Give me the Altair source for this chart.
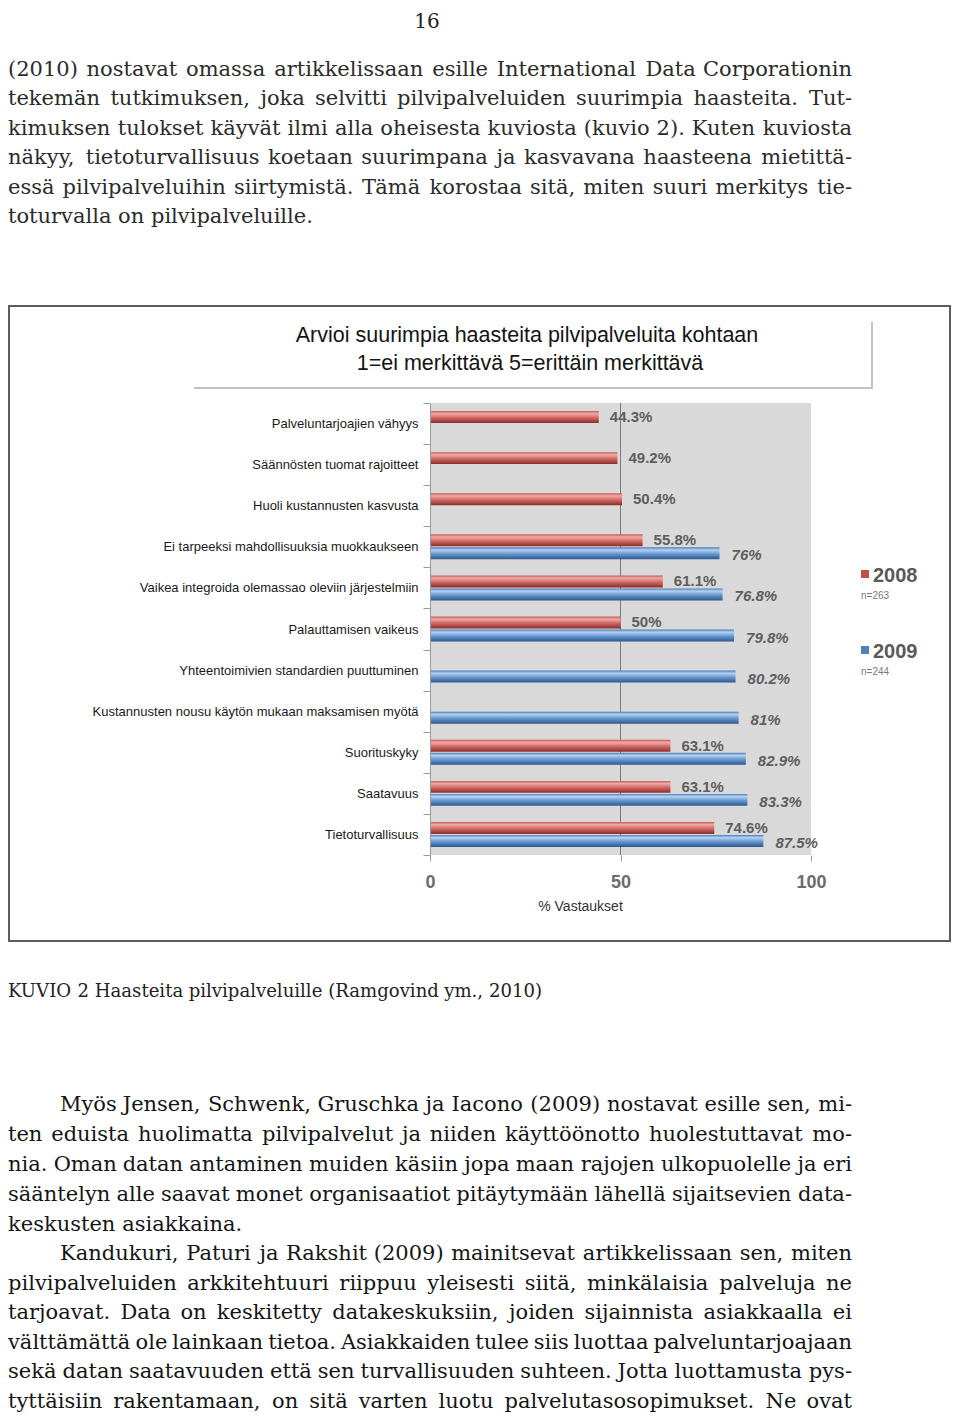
import altair as alt
import pandas as pd

# ---------------- data ----------------
categories = [
    "Palveluntarjoajien vähyys",
    "Säännösten tuomat rajoitteet",
    "Huoli kustannusten kasvusta",
    "Ei tarpeeksi mahdollisuuksia muokkaukseen",
    "Vaikea integroida olemassao oleviin järjestelmiin",
    "Palauttamisen vaikeus",
    "Yhteentoimivien standardien puuttuminen",
    "Kustannusten nousu käytön mukaan maksamisen myötä",
    "Suorituskyky",
    "Saatavuus",
    "Tietoturvallisuus",
]
values_2008 = [44.3, 49.2, 50.4, 55.8, 61.1, 50.0, None, None, 63.1, 63.1, 74.6]
values_2009 = [None, None, None, 76.0, 76.8, 79.8, 80.2, 81.0, 82.9, 83.3, 87.5]
years = ["2008", "2009"]
sample_sizes = ["n=263", "n=244"]
x_ticks = [0, 50, 100]
gridline_at = [50]
chart_title = ["Arvioi suurimpia haasteita pilvipalveluita kohtaan",
               "1=ei merkittävä 5=erittäin merkittävä"]
x_title = "% Vastaukset"

page_number = "16"
para1 = [
    "(2010) nostavat omassa artikkelissaan esille International Data Corporationin",
    "tekemän tutkimuksen, joka selvitti pilvipalveluiden suurimpia haasteita. Tut-",
    "kimuksen tulokset käyvät ilmi alla oheisesta kuviosta (kuvio 2). Kuten kuviosta",
    "näkyy, tietoturvallisuus koetaan suurimpana ja kasvavana haasteena mietittä-",
    "essä pilvipalveluihin siirtymistä.  Tämä korostaa sitä, miten suuri merkitys tie-",
    "toturvalla on pilvipalveluille.",
]
caption = "KUVIO 2 Haasteita pilvipalveluille  (Ramgovind ym., 2010)"
para2 = [
    "Myös Jensen, Schwenk, Gruschka ja Iacono (2009) nostavat esille sen, mi-",
    "ten eduista huolimatta pilvipalvelut ja niiden käyttöönotto huolestuttavat mo-",
    "nia. Oman datan antaminen muiden käsiin jopa maan rajojen ulkopuolelle ja eri",
    "sääntelyn alle saavat monet organisaatiot pitäytymään lähellä sijaitsevien data-",
    "keskusten asiakkaina.",
]
para3 = [
    "Kandukuri, Paturi ja Rakshit (2009) mainitsevat artikkelissaan sen, miten",
    "pilvipalveluiden arkkitehtuuri riippuu yleisesti siitä, minkälaisia palveluja ne",
    "tarjoavat. Data on keskitetty datakeskuksiin, joiden sijainnista asiakkaalla ei",
    "välttämättä ole lainkaan tietoa. Asiakkaiden tulee siis luottaa palveluntarjoajaan",
    "sekä datan saatavuuden että sen turvallisuuden suhteen. Jotta luottamusta pys-",
    "tyttäisiin rakentamaan, on sitä varten luotu palvelutasosopimukset. Ne ovat",
]

rows = []
for c, a, b in zip(categories, values_2008, values_2009):
    if a is not None:
        rows.append({"category": c, "year": years[0], "value": a, "label": f"{a:g}%"})
    if b is not None:
        rows.append({"category": c, "year": years[1], "value": b, "label": f"{b:g}%"})
bars = pd.DataFrame(rows)

# ---------------- layout helpers ----------------
OX, OY = 430, 403          # page position of plot origin
PW, PH = 381, 452          # plot area size


def X(p):
    return p - OX


def Y(p):
    return p - OY


# approximate DejaVu Serif advance widths (units of 1/2048 em)
_W = {' ': 651, '(': 799, ')': 799, ',': 651, '-': 739, '.': 651, ':': 690, '=': 1716, '%': 1946}
for d in "0123456789":
    _W[d] = 1303
_W.update(dict(zip("ABCDEFGHIJKLMNOPQRSTUVWXYZ",
                   [1479, 1497, 1470, 1593, 1497, 1399, 1595, 1751, 870, 874, 1559, 1399, 2007,
                    1708, 1608, 1401, 1608, 1505, 1413, 1399, 1706, 1479, 2130, 1483, 1395, 1423])))
_W.update(dict(zip("abcdefghijklmnopqrstuvwxyz",
                   [1221, 1311, 1147, 1311, 1212, 758, 1311, 1320, 655, 635, 1249, 655, 1972,
                    1320, 1233, 1311, 1311, 979, 1051, 823, 1320, 1157, 1700, 1155, 1157, 1071])))
_W.update({'ä': _W['a'], 'ö': _W['o'], 'Ä': _W['A'], 'Ö': _W['O']})


def tw(s, size):
    return sum(_W.get(ch, 1250) for ch in s) / 2048.0 * size


LEFT, RIGHT = 8, 852
BODY = 21


def lay(lines, y0, step, color, justify_last, indent=0, size=BODY):
    left_rows, right_rows = [], []
    for i, line in enumerate(lines):
        words = line.split()
        L = LEFT + (indent if i == 0 else 0)
        y = y0 + i * step
        widths = [tw(w, size) for w in words]
        last = (i == len(lines) - 1)
        if last and not justify_last:
            x = L
            sp = tw(" ", size)
            for w, wd in zip(words, widths):
                left_rows.append({"w": w, "x": X(x), "y": Y(y), "fs": size, "c": color})
                x += wd + sp
        else:
            gap = (RIGHT - L - sum(widths)) / (len(words) - 1)
            gap = max(gap, 0.12 * size)
            x = L
            for w, wd in zip(words[:-1], widths[:-1]):
                left_rows.append({"w": w, "x": X(x), "y": Y(y), "fs": size, "c": color})
                x += wd + gap
            right_rows.append({"w": words[-1], "x": X(RIGHT), "y": Y(y), "fs": size, "c": color})
    return left_rows, right_rows


wl, wr = [], []
for part in [
    lay(para1, 70, 29.4, "#2b2b2b", False),
    lay(para2, 1105, 29.9, "#151515", False, indent=52),
    lay(para3, 1254, 29.6, "#151515", True, indent=52),
]:
    wl += part[0]
    wr += part[1]
cap_size = (548 - LEFT) / tw(caption, 1.0)
cl, _ = lay([caption], 992, 0, "#222222", False, size=round(cap_size, 2))
wl += cl

one = pd.DataFrame({"k": [0]})


def vrect(x1, y1, x2, y2, **kw):
    return alt.Chart(one).mark_rect(**kw).encode(
        x=alt.value(X(x1)), x2=alt.value(X(x2)), y=alt.value(Y(y1)), y2=alt.value(Y(y2)))


def vtext(txt, x, y, **kw):
    return alt.Chart(pd.DataFrame({"t": [txt]})).mark_text(**kw).encode(
        text="t:N", x=alt.value(X(x)), y=alt.value(Y(y)))


SANS = "Liberation Sans, Arial, sans-serif"

bg = vrect(8, 8, 952, 1413, fill="white")
frame = vrect(9, 306, 950, 941, fill="white", stroke="#5c5c5c", strokeWidth=2)
title_shadow = vrect(194, 322, 873, 389, fill="#c2c2c2")
title_box = vrect(190, 315, 871, 387, fill="white")
title1 = vtext(chart_title[0], 527, 336, font=SANS, fontSize=21.5, color="#141414",
               align="center", baseline="middle")
title2 = vtext(chart_title[1], 530, 364, font=SANS, fontSize=21.5, color="#141414",
               align="center", baseline="middle")
plot_bg = vrect(OX, OY, OX + PW, OY + PH, fill="#d9d9d9")
page_num = vtext(page_number, 427, 12, font="DejaVu Serif", fontSize=20, color="#222",
                 align="center", baseline="top")


def words_layer(rows, align):
    return alt.Chart(pd.DataFrame(rows)).mark_text(
        align=align, baseline="middle", font="DejaVu Serif").encode(
        x=alt.X("x:Q", scale=None, axis=None),
        y=alt.Y("y:Q", scale=None, axis=None),
        text="w:N",
        size=alt.Size("fs:Q", scale=None, legend=None),
        color=alt.Color("c:N", scale=None, legend=None),
    )


words_left = words_layer(wl, "left")
words_right = words_layer(wr, "right")

# ---------------- bar chart ----------------
xs = alt.Scale(domain=[0, 100], nice=False, zero=True)
ys = alt.Scale(domain=categories, paddingInner=0, paddingOuter=0)
yo = alt.Scale(domain=years, paddingInner=0.08, paddingOuter=0.62)

x_axis = alt.Axis(values=x_ticks, grid=False, domain=False, tickColor="#9a9a9a", tickSize=6,
                  labelFont=SANS, labelFontWeight="bold", labelFontSize=18, labelFlush=False,
                  labelColor="#6b6b6b", labelPadding=12, labelBaseline="top",
                  title=x_title, titleFont=SANS, titleFontSize=14,
                  titleFontWeight="normal", titleColor="#333333", titleX=150, titleY=51,
                  titleAlign="center", titleBaseline="middle", zindex=1)
y_axis = alt.Axis(title=None, tickBand="extent", tickColor="#9a9a9a", tickSize=7,
                  domainColor="#9a9a9a", labelFont=SANS, labelFontSize=13,
                  labelColor="#1a1a1a", labelPadding=5, labelLimit=500, zindex=1)

enc = dict(
    x=alt.X("value:Q", scale=xs, axis=x_axis),
    y=alt.Y("category:N", sort=categories, scale=ys, axis=y_axis),
    yOffset=alt.YOffset("year:N", scale=yo),
)

red_grad = alt.Gradient(gradient="linear", x1=0, x2=0, y1=0, y2=1, stops=[
    alt.GradientStop(offset=0, color="#c45a56"),
    alt.GradientStop(offset=0.22, color="#f1a9a5"),
    alt.GradientStop(offset=0.55, color="#d06a66"),
    alt.GradientStop(offset=1, color="#8a2c2a")])
blue_grad = alt.Gradient(gradient="linear", x1=0, x2=0, y1=0, y2=1, stops=[
    alt.GradientStop(offset=0, color="#4a7cbc"),
    alt.GradientStop(offset=0.22, color="#b4d2f1"),
    alt.GradientStop(offset=0.55, color="#6a98d0"),
    alt.GradientStop(offset=1, color="#2c578f")])

grid = alt.Chart(pd.DataFrame({"value": gridline_at})).mark_rule(
    color="#7a7a7a", strokeWidth=1).encode(x=alt.X("value:Q", scale=xs, axis=x_axis))

base = alt.Chart(bars)
bar08 = base.transform_filter(alt.datum.year == years[0]).mark_bar(color=red_grad).encode(**enc)
bar09 = base.transform_filter(alt.datum.year == years[1]).mark_bar(color=blue_grad).encode(**enc)
lab08 = base.transform_filter(alt.datum.year == years[0]).mark_text(
    align="left", baseline="middle", dx=11, font=SANS, fontSize=15,
    fontWeight="bold", color="#5e5e5e").encode(text="label:N", **enc)
lab09 = base.transform_filter(alt.datum.year == years[1]).mark_text(
    align="left", baseline="middle", dx=12, dy=2, font=SANS, fontSize=15,
    fontWeight="bold", fontStyle="italic", color="#5e5e5e").encode(text="label:N", **enc)

bar_group = alt.layer(grid, bar08, bar09, lab08, lab09)

# ---------------- legend ----------------
leg = []
for yr, n, col, yc in [(years[0], sample_sizes[0], "#c0504d", 574),
                       (years[1], sample_sizes[1], "#4f81bd", 650)]:
    leg.append(alt.Chart(one).mark_square(size=64, color=col, opacity=1).encode(
        x=alt.value(X(865)), y=alt.value(Y(yc))))
    leg.append(vtext(yr, 873, yc + 2, font=SANS, fontSize=20, fontWeight="bold",
                     color="#595959", align="left", baseline="middle"))
    leg.append(vtext(n, 861, yc + 22, font=SANS, fontSize=10, color="#7a7a7a",
                     align="left", baseline="middle"))

chart = alt.layer(
    bg, frame, title_shadow, title_box, title1, title2, plot_bg, page_num,
    words_left, words_right, bar_group, *leg
).resolve_scale(x="independent", y="independent").properties(
    width=PW, height=PH, padding=0
).configure_view(stroke=None)

chart.save("out.html", embed_options={"renderer": "svg", "actions": False})
